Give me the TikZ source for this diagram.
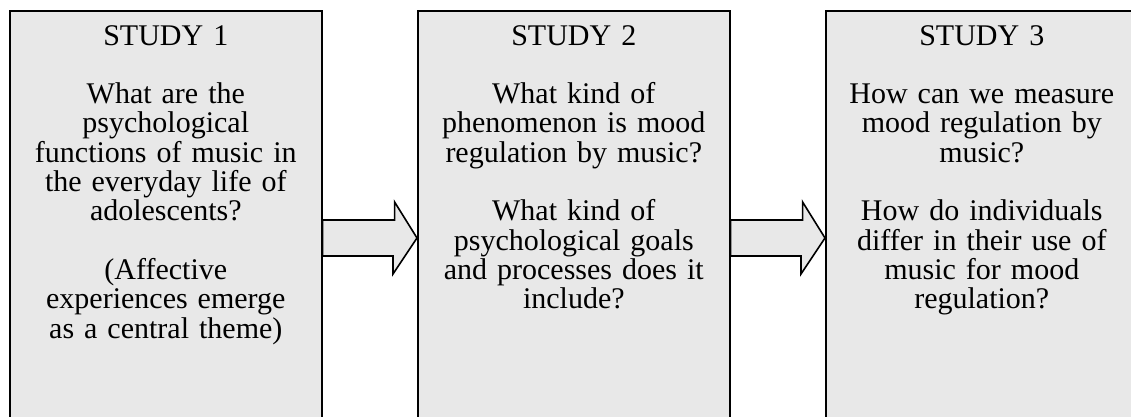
\documentclass[tikz,border=0pt]{standalone}
\usepackage{fontspec}
\setmainfont{Liberation Serif}

\tikzset{
    studybox/.style={draw=black, fill=gray!18, line width=1.6pt, anchor=north west,
        minimum width=312pt, minimum height=430pt, inner sep=0pt},
    studytext/.style={anchor=north, inner sep=0pt, text width=290pt, align=center,
        font=\fontsize{30}{29.3}\selectfont},
    studyarrow/.style={draw=black, fill=gray!18, line width=1.6pt, line join=miter}
}

\begin{document}
\begin{tikzpicture}[x=1pt, y=1pt]
    \useasboundingbox (0,0) rectangle (1131,417);
    \clip (0,0) rectangle (1131,417);

    % the three study boxes
    \foreach \n/\x in {1/9, 2/417, 3/825} {
        \node[studybox] (s\n) at (\x,407) {};
    }

    \node[studytext] (t1) at ([yshift=-15pt]s1.north) {STUDY 1\\[29.3pt]
        What are the\\ psychological\\ functions of music in\\ the everyday life of\\ adolescents?\\[29.3pt]
        (Affective\\ experiences emerge\\ as a central theme)};
    \node[studytext] (t2) at ([yshift=-15pt]s2.north) {STUDY 2\\[29.3pt]
        What kind of\\ phenomenon is mood\\ regulation by music?\\[29.3pt]
        What kind of\\ psychological goals\\ and processes does it\\ include?};
    \node[studytext] (t3) at ([yshift=-15pt]s3.north) {STUDY 3\\[29.3pt]
        How can we measure\\ mood regulation by\\ music?\\[29.3pt]
        How do individuals\\ differ in their use of\\ music for mood\\ regulation?};

    % block arrows between the studies
    \coordinate (top) at (0,197);
    \coordinate (mid) at (0,179);
    \coordinate (bot) at (0,161);
    \foreach \a/\b in {s1/s2, s2/s3} {
        \draw[studyarrow] (\a.east |- top) -- ++(72,0) -- ++(0,18) -- (\b.west |- mid)
            -- ++(-24,-36) -- ++(0,18) -- (\a.east |- bot) -- cycle;
    }
\end{tikzpicture}
\end{document}
